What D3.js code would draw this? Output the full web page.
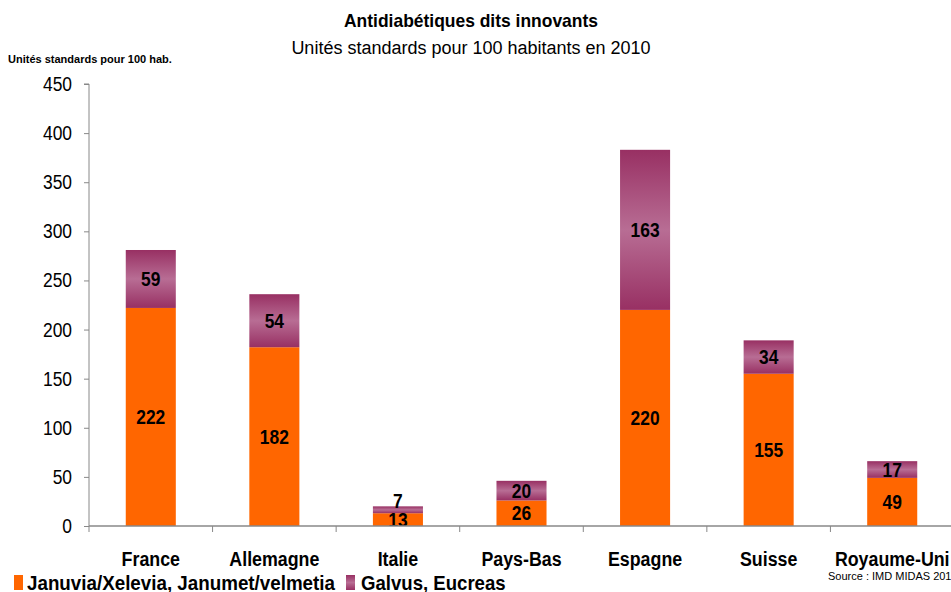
<!DOCTYPE html>
<html>
<head>
<meta charset="utf-8">
<script src="https://cdn.jsdelivr.net/npm/d3@7"></script>
<style>
  body { margin: 0; background: #fff; }
  text { font-family: "Liberation Sans", Arial, sans-serif; }
</style>
</head>
<body>
<script>
const width = 951;
const height = 592;

const countries = ["France", "Allemagne", "Italie", "Pays-Bas", "Espagne", "Suisse", "Royaume-Uni"];
const januvia = [222, 182, 13, 26, 220, 155, 49];
const galvus = [59, 54, 7, 20, 163, 34, 17];
const yTicks = [0, 50, 100, 150, 200, 250, 300, 350, 400, 450];
const seriesNames = ["Januvia/Xelevia, Janumet/velmetia", "Galvus, Eucreas"];

const orange = "#ff6600";

const svg = d3.select("body").append("svg")
    .attr("width", width)
    .attr("height", height);

// text squeezed horizontally to look like Arial Narrow
function ntext(g, tx, ty, str, size, bold, anchor, sx) {
    return g.append("text")
        .attr("transform", `translate(${tx},${ty}) scale(${sx},1)`)
        .attr("text-anchor", anchor || "start")
        .attr("font-size", size + "px")
        .attr("font-weight", bold ? "bold" : "normal")
        .text(str);
}

const defs = svg.append("defs");
const grad = defs.append("linearGradient")
    .attr("id", "purpleGrad")
    .attr("x1", 0).attr("y1", 0).attr("x2", 0).attr("y2", 1);
grad.append("stop").attr("offset", "0%").attr("stop-color", "#983063");
grad.append("stop").attr("offset", "50%").attr("stop-color", "#b86d94");
grad.append("stop").attr("offset", "100%").attr("stop-color", "#983063");

defs.append("clipPath").attr("id", "plotClip")
    .append("rect").attr("x", 89).attr("y", 0).attr("width", 870).attr("height", 526);

const x = d3.scaleBand()
    .domain(countries)
    .range([89, 954])
    .paddingInner(0.595)
    .paddingOuter(0.2975);

const y = d3.scaleLinear()
    .domain([0, 450])
    .range([526, 84]);

// titles
ntext(svg, 471, 27, "Antidiabétiques dits innovants", 18, true, "middle", 0.97);
ntext(svg, 471, 54, "Unités standards pour 100 habitants en 2010", 18, false, "middle", 1);
ntext(svg, 8, 63, "Unités standards pour 100 hab.", 11, true, "start", 1);

// bars
const bars = svg.append("g");
countries.forEach((c, i) => {
    const a = januvia[i], b = galvus[i];
    bars.append("rect")
        .attr("x", x(c)).attr("width", x.bandwidth())
        .attr("y", y(a)).attr("height", y(0) - y(a))
        .attr("fill", orange);
    bars.append("rect")
        .attr("x", x(c)).attr("width", x.bandwidth())
        .attr("y", y(a + b)).attr("height", y(a) - y(a + b))
        .attr("fill", "url(#purpleGrad)");
});

// value labels
const labels = svg.append("g").attr("clip-path", "url(#plotClip)");
countries.forEach((c, i) => {
    const a = januvia[i], b = galvus[i];
    const cx = x(c) + x.bandwidth() / 2;
    const yA = (y(0) + y(a)) / 2;
    let yB = (y(a) + y(a + b)) / 2;
    yB = Math.min(yB, yA - 19);
    ntext(labels, cx, yA + 7, a, 20, true, "middle", 0.87);
    ntext(labels, cx, yB + 7, b, 20, true, "middle", 0.87);
});

// y axis
const yAxis = svg.append("g")
    .attr("transform", "translate(89,0)")
    .call(d3.axisLeft(y).tickValues(yTicks).tickSize(5).tickFormat(""));
yAxis.select(".domain").attr("stroke", "#888").attr("d", "M-5,84H0V526");
yAxis.selectAll(".tick line").attr("stroke", "#888");
yTicks.forEach(t => {
    ntext(svg, 72, y(t) + 7, t, 20, false, "end", 0.87);
});

// x axis
const xAxisG = svg.append("g").attr("transform", "translate(0,526)");
xAxisG.append("line")
    .attr("x1", 89).attr("x2", 951)
    .attr("stroke", "#888").attr("stroke-width", 1.5);
const step = x.step();
d3.range(countries.length).forEach(i => {
    const tx = x(countries[i]) - x.paddingInner() * step / 2;
    xAxisG.append("line")
        .attr("x1", tx).attr("x2", tx)
        .attr("y1", 0).attr("y2", 6)
        .attr("stroke", "#888");
});
countries.forEach(c => {
    ntext(xAxisG, x(c) + x.bandwidth() / 2, 40, c, 20, true, "middle", 0.89);
});

// legend
const legend = svg.append("g");
legend.append("rect").attr("x", 14).attr("y", 575).attr("width", 9).attr("height", 15).attr("fill", orange);
ntext(legend, 27, 590, seriesNames[0], 20, true, "start", 0.94);
legend.append("rect").attr("x", 346).attr("y", 575).attr("width", 9).attr("height", 15).attr("fill", "url(#purpleGrad)");
ntext(legend, 361, 590, seriesNames[1], 20, true, "start", 0.93);

ntext(svg, 828, 580, "Source : IMD MIDAS 2010", 11, false, "start", 1);
</script>
</body>
</html>
